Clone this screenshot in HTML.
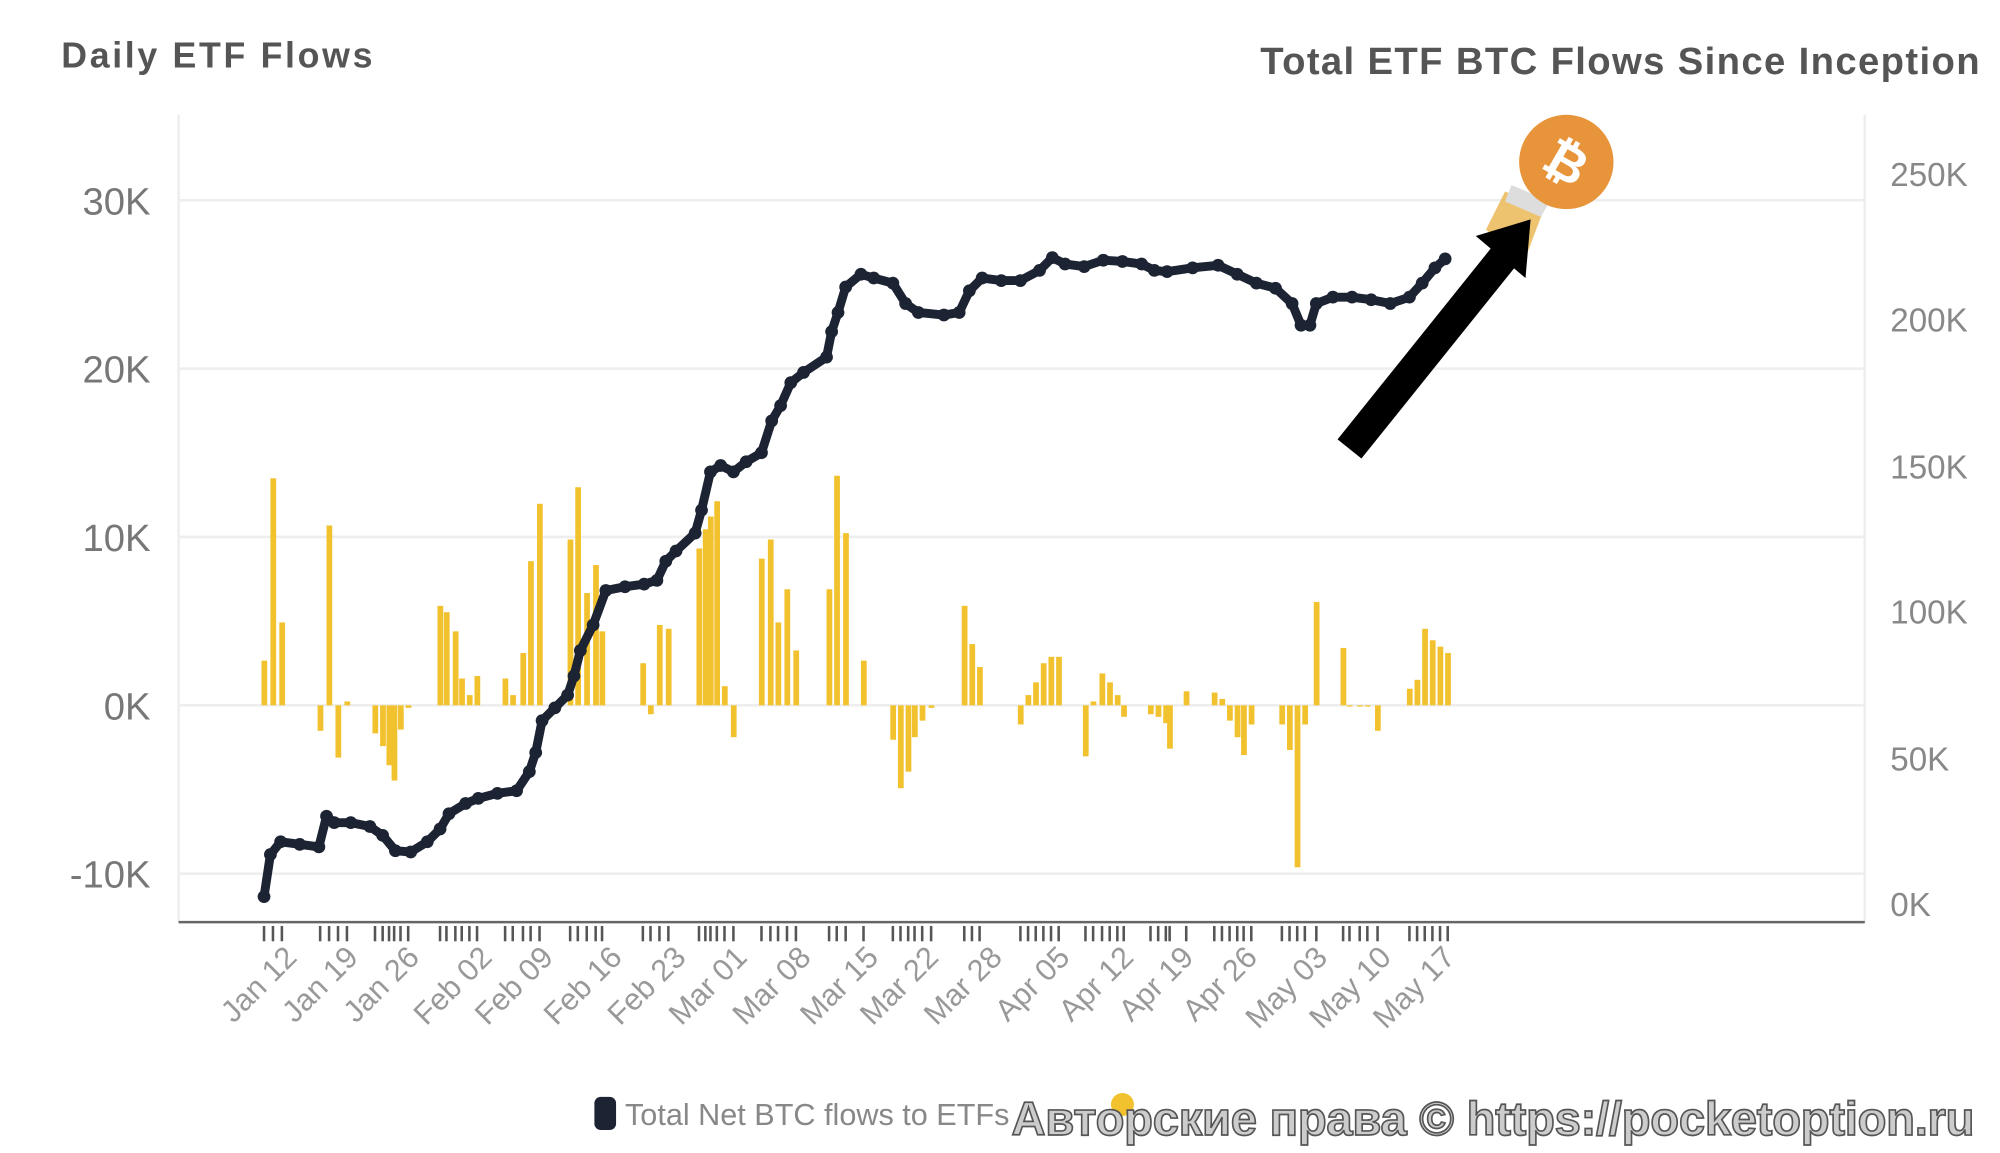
<!DOCTYPE html>
<html><head><meta charset="utf-8"><style>html,body{margin:0;padding:0;background:#fff;overflow:hidden}svg{display:block}</style></head>
<body>
<svg width="2000" height="1153" viewBox="0 0 1568 904" preserveAspectRatio="none" xmlns="http://www.w3.org/2000/svg" font-family="Liberation Sans, sans-serif">
<rect width="1568" height="904" fill="#fff"/>
<text x="48" y="53" font-size="28" font-weight="bold" fill="#555" textLength="244">Daily ETF Flows</text>
<text x="988" y="58" font-size="30" font-weight="bold" fill="#555" textLength="564">Total ETF BTC Flows Since Inception</text>
<g stroke="#eee" stroke-width="2">
<line x1="140" y1="157" x2="1462" y2="157"/><line x1="140" y1="289" x2="1462" y2="289"/><line x1="140" y1="421" x2="1462" y2="421"/><line x1="140" y1="553" x2="1462" y2="553"/><line x1="140" y1="685" x2="1462" y2="685"/>
<line x1="140" y1="90" x2="140" y2="723"/><line x1="1462" y1="90" x2="1462" y2="723"/>
</g>
<line x1="140" y1="723" x2="1462" y2="723" stroke="#666" stroke-width="2"/>
<g font-size="30" fill="#777" text-anchor="end">
<text x="118" y="168">30K</text><text x="118" y="300">20K</text><text x="118" y="432">10K</text><text x="118" y="564">0K</text><text x="118" y="696">-10K</text>
</g>
<g font-size="26" fill="#888">
<text x="1482" y="146">250K</text><text x="1482" y="260">200K</text><text x="1482" y="375">150K</text><text x="1482" y="489">100K</text><text x="1482" y="604">50K</text><text x="1482" y="718">0K</text>
</g>
<g id="bars" fill="#f2c12e"></g>
<g id="ticks" stroke="#555" stroke-width="2"></g>
<g font-size="24" fill="#999" id="xl"></g>
<polyline id="ln" fill="none" stroke="#1c2333" stroke-width="7" stroke-linejoin="round" stroke-linecap="round"/>
<g id="dots" fill="#1c2333"></g>
<polygon points="1180,150 1210,165 1195,205 1165,180" fill="#e9b44c" opacity="0.8"/>
<polygon points="1185,145 1215,158 1208,170 1180,158" fill="#ddd"/>
<circle cx="1228" cy="127" r="37" fill="#e8943a"/>
<text x="1228" y="141" font-size="40" font-weight="bold" fill="#fff" text-anchor="middle" transform="rotate(30 1228 127)">₿</text>
<line x1="1058" y1="352" x2="1180" y2="200" stroke="#000" stroke-width="24"/>
<polygon points="1157,185 1200,172 1196,218" fill="#000"/>
<rect x="466" y="860" width="17" height="26" rx="5" fill="#1c2333"/>
<text x="490" y="882" font-size="24" fill="#888">Total Net BTC flows to ETFs</text>
<circle cx="880" cy="866" r="9" fill="#f2c12e"/>
<text x="793" y="890" font-size="37" font-weight="bold" fill="#ccc" stroke="#555" stroke-width="1.3" textLength="755">Авторские права © https://pocketoption.ru</text>
<script>
var ns="http://www.w3.org/2000/svg";
var b=[[207,518],[214,375],[221,488],[251,573],[258,412],[265,594],[272,550],[294,575],[300,585],[305,600],[309,612],[314,572],[320,555],[345,475],[350,480],[357,495],[362,532],[368,545],[374,530],[396,532],[402,545],[410,512],[416,440],[423,395],[447,423],[453,382],[460,465],[467,443],[472,495],[504,520],[510,560],[517,490],[524,493],[548,430],[553,415],[557,405],[562,393],[568,538],[575,578],[597,438],[604,423],[610,488],[617,462],[624,510],[650,462],[656,373],[663,418],[677,518],[700,580],[706,618],[712,605],[717,578],[723,565],[730,555],[756,475],[762,505],[768,523],[800,568],[806,545],[812,535],[818,520],[824,515],[830,515],[851,593],[857,550],[864,528],[870,535],[876,545],[881,562],[902,560],[908,562],[914,567],[917,587],[930,542],[952,543],[958,548],[964,565],[970,578],[975,592],[981,568],[1005,568],[1011,588],[1017,680],[1023,568],[1032,472],[1053,508],[1058,553],[1066,553],[1072,553],[1080,573],[1105,540],[1111,533],[1117,493],[1123,502],[1129,507],[1135,512]];
var g=document.getElementById('bars'),t=document.getElementById('ticks');
b.forEach(function(p){var r=document.createElementNS(ns,'rect');var y=Math.min(p[1],553),h=Math.max(Math.abs(p[1]-553),1);r.setAttribute('x',p[0]-2);r.setAttribute('y',y);r.setAttribute('width',4.5);r.setAttribute('height',h);g.appendChild(r);
var l=document.createElementNS(ns,'line');l.setAttribute('x1',p[0]);l.setAttribute('x2',p[0]);l.setAttribute('y1',726);l.setAttribute('y2',738);t.appendChild(l);});
var L=[[207,703],[212,670],[220,660],[235,662],[250,664],[256,640],[262,645],[275,645],[290,648],[300,655],[310,667],[322,668],[335,660],[345,650],[352,638],[365,630],[375,626],[390,622],[405,620],[415,605],[420,590],[425,565],[435,555],[445,545],[450,530],[455,510],[465,490],[475,463],[490,460],[505,458],[515,455],[522,440],[530,432],[545,418],[550,400],[557,370],[565,365],[575,370],[585,362],[597,355],[605,330],[612,318],[620,300],[630,292],[648,280],[652,260],[657,245],[663,225],[675,215],[685,218],[700,222],[710,238],[720,245],[740,247],[752,245],[760,228],[770,218],[785,220],[800,220],[815,212],[825,202],[835,207],[850,209],[865,204],[880,205],[895,207],[905,212],[915,213],[935,210],[955,208],[970,215],[985,222],[1000,226],[1013,238],[1020,255],[1027,255],[1032,238],[1045,233],[1060,233],[1075,235],[1090,238],[1105,233],[1115,222],[1125,210],[1133,203]];
document.getElementById('ln').setAttribute('points',L.map(function(p){return p.join(',')}).join(' '));
var d=document.getElementById('dots');L.forEach(function(p){var c=document.createElementNS(ns,'circle');c.setAttribute('cx',p[0]);c.setAttribute('cy',p[1]);c.setAttribute('r',5);d.appendChild(c);});
var lab=["Jan 12","Jan 19","Jan 26","Feb 02","Feb 09","Feb 16","Feb 23","Mar 01","Mar 08","Mar 15","Mar 22","Mar 28","Apr 05","Apr 12","Apr 19","Apr 26","May 03","May 10","May 17"];
var lx=[234,282,330,387,435,489,539,587,637,690,737,787,840,890,937,987,1042,1092,1142];
var xl=document.getElementById('xl');
lab.forEach(function(s,i){var e=document.createElementNS(ns,'text');e.setAttribute('x',lx[i]);e.setAttribute('y',752);e.setAttribute('text-anchor','end');e.setAttribute('transform','rotate(-45 '+lx[i]+' 752)');e.textContent=s;xl.appendChild(e);});
</script>
</svg>
</body></html>
